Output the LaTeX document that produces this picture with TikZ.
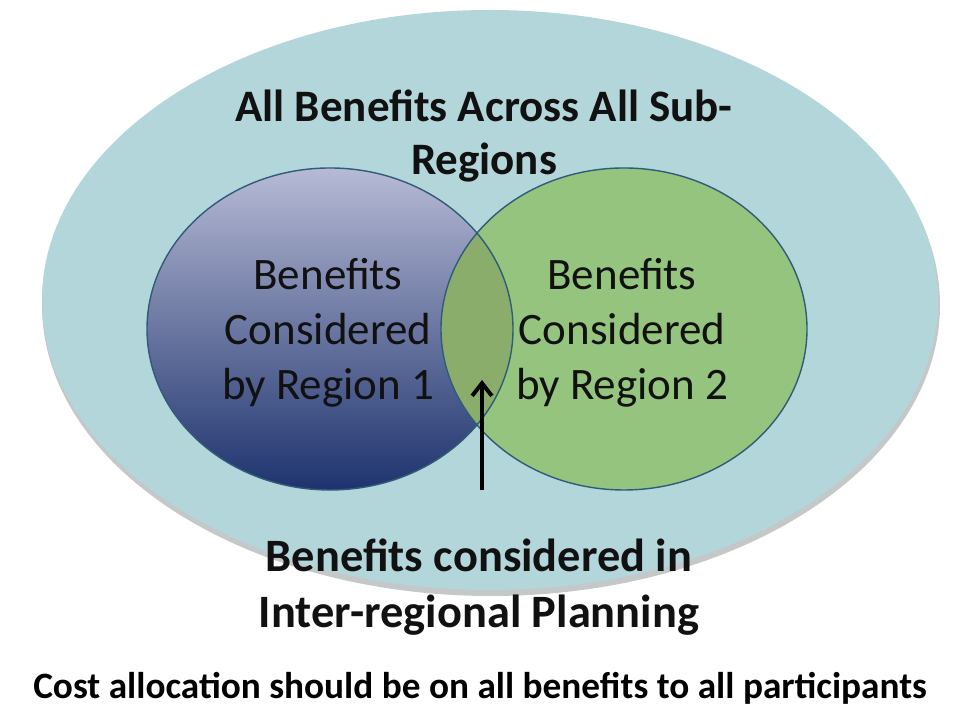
\documentclass[tikz,border=0pt]{standalone}
\usepackage{fontspec}
\setmainfont{Carlito}
\usetikzlibrary{arrows.meta}
\definecolor{outerfill}{HTML}{B3D6DA}
\definecolor{outershadow}{HTML}{C4C8C8}
\definecolor{regionone top}{HTML}{B6BAD4}
\definecolor{regionone bottom}{HTML}{1E336E}
\definecolor{regiontwo}{HTML}{94C47D}
\definecolor{overlap}{HTML}{8AAD6B}
\definecolor{vennline}{HTML}{2F5C78}
\definecolor{textblack}{HTML}{111111}
\tikzset{
 venn edge/.style={draw=vennline, line width=1pt},
 big label/.style={font=\fontsize{32}{37.5}\selectfont\bfseries, align=center, text=textblack},
 lower label/.style={font=\fontsize{33}{40}\selectfont\bfseries, align=center, text=textblack},
 region label/.style={font=\fontsize{32}{39}\selectfont, align=center, text=textblack},
 caption label/.style={font=\fontsize{26.5}{30}\selectfont\bfseries, text=black},
}

\begin{document}
\begin{tikzpicture}[x=0.025cm,y=0.025cm]
        % page
        \fill[white] (0,0) rectangle (960,720);
        % outer set
        \fill[outershadow] (491,415) ellipse [x radius=449, y radius=291];
        \fill[outerfill] (490,420) ellipse [x radius=448, y radius=290];
        % region sets
        \shade[top color=regionone top, bottom color=regionone bottom]
            (330,391) ellipse [x radius=183, y radius=161];
        \fill[regiontwo] (624,391) ellipse [x radius=183, y radius=161];
        \begin{scope}
            \clip (330,391) ellipse [x radius=183, y radius=161];
            \fill[overlap] (624,391) ellipse [x radius=183, y radius=161];
        \end{scope}
        \draw[venn edge] (330,391) ellipse [x radius=183, y radius=161];
        \draw[venn edge] (624,391) ellipse [x radius=183, y radius=161];
        % labels
        \node[big label] (allbenefits) at (484,584) {All Benefits Across All Sub-\\Regions};
        \node[region label] (regionone) at (328,387) {Benefits\\Considered\\by Region 1};
        \node[region label] (regiontwo) at (622,387) {Benefits\\Considered\\by Region 2};
        \node[lower label] (interregional) at (479,133) {Benefits considered in\\Inter-regional Planning};
        \node[caption label] (costallocation) at (480,32) {Cost allocation should be on all benefits to all participants};
        % arrow into the overlap
        \coordinate (arrowtail) at (482,230);
        \coordinate (arrowtip) at (482,340);
        \draw[line width=2.8pt, -{Straight Barb[length=9pt, width=14pt]}] (arrowtail) -- (arrowtip);
\end{tikzpicture}
\end{document}
